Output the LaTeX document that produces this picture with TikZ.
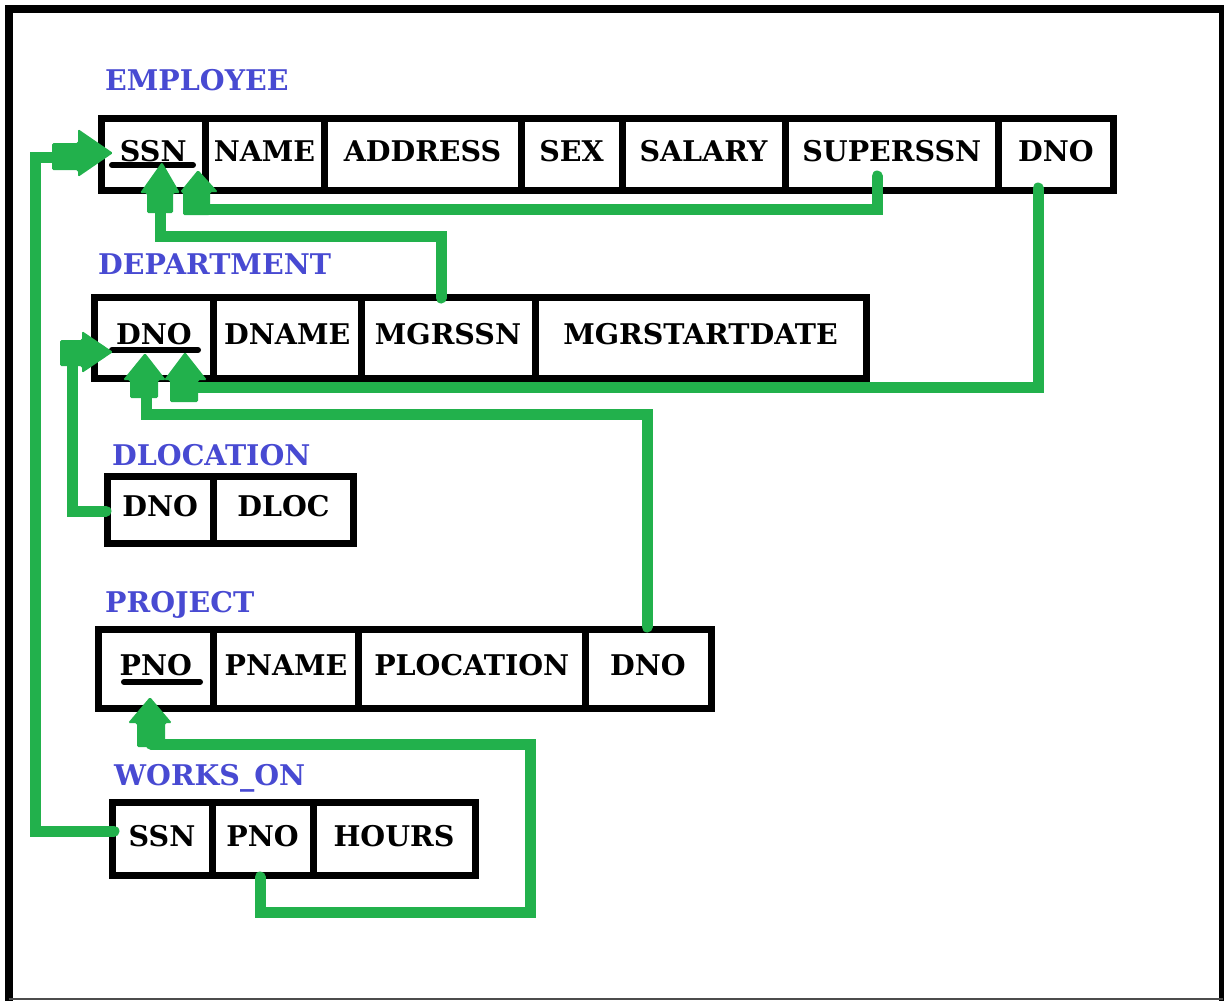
\documentclass[tikz,border=0pt]{standalone}
\usepackage{fontspec}
\setmainfont{DejaVu Serif}
\definecolor{grn}{RGB}{34,177,76}
\definecolor{ttl}{RGB}{72,74,210}
\tikzset{
  cell/.style={draw=black, line width=7pt, inner sep=0pt, text depth=7pt,
    font=\fontsize{28.5}{32}\selectfont\bfseries},
  ttlstyle/.style={text=ttl, inner sep=0pt, anchor=base west,
    font=\fontsize{28.5}{32}\selectfont\bfseries},
  uline/.style={line width=6pt, line cap=round, black},
  link/.style={draw=grn, line width=11pt, line cap=round, line join=miter},
  blk/.style={fill=grn, rounded corners=1.5pt}
}
\newcommand\mkcell[6]{%
  \node[cell, minimum width={(#3-#2)*1pt}, minimum height={(#5-#4)*1pt}]
    (#1) at ({(#2+#3)/2},{(#4+#5)/2}) {#6};}
\begin{document}
\begin{tikzpicture}[x=1pt,y=-1pt]
\useasboundingbox (0,0) rectangle (1224,1001);
% frame
\draw[line width=8pt] (9,1001) -- (9,9) -- (1223,9) -- (1223,1001);
\draw[line width=2pt, black!70] (9,999) -- (1223,999);

% titles
\node[ttlstyle] (temp) at (105,90) {EMPLOYEE};
\node[ttlstyle] (tdep) at (98,274) {DEPARTMENT};
\node[ttlstyle] (tdl) at (112,465) {DLOCATION};
\node[ttlstyle] (tpr) at (105,612) {PROJECT};
\node[ttlstyle] (twk) at (114,785) {WORKS\_ON};

% EMPLOYEE
\mkcell{essn}{101.5}{205}{118.5}{190}{SSN}
\mkcell{ename}{205}{324}{118.5}{190}{NAME}
\mkcell{eaddr}{324}{521}{118.5}{190}{ADDRESS}
\mkcell{esex}{521}{622}{118.5}{190}{SEX}
\mkcell{esal}{622}{785}{118.5}{190}{SALARY}
\mkcell{esup}{785}{998.5}{118.5}{190}{SUPERSSN}
\mkcell{edno}{998.5}{1113.5}{118.5}{190}{DNO}
% DEPARTMENT
\mkcell{ddno}{94.5}{213.5}{297}{378}{DNO}
\mkcell{dname}{213.5}{361}{297}{378}{DNAME}
\mkcell{dmgr}{361}{535}{297}{378}{MGRSSN}
\mkcell{dmsd}{535}{866}{297}{378}{MGRSTARTDATE}
% DLOCATION
\mkcell{ldno}{107}{213.5}{476}{543}{DNO}
\mkcell{lloc}{213.5}{353.5}{476}{543}{DLOC}
% PROJECT
\mkcell{ppno}{98}{213.5}{629}{708.5}{PNO}
\mkcell{pname}{213.5}{358.5}{629}{708.5}{PNAME}
\mkcell{ploc}{358.5}{585}{629}{708.5}{PLOCATION}
\mkcell{pdno}{585}{711}{629}{708.5}{DNO}
% WORKS_ON
\mkcell{wssn}{112}{212}{802.5}{875.5}{SSN}
\mkcell{wpno}{212}{313}{802.5}{875.5}{PNO}
\mkcell{whrs}{313}{475}{802.5}{875.5}{HOURS}

% underlines of keys
\draw[uline] (112,165) -- (193,165);
\draw[uline] (112,350) -- (198,350);
\draw[uline] (124,682) -- (200,682);

% connector end points
\coordinate (a1s) at (114,831);
\coordinate (a1e) at (55,157);
\coordinate (a2s) at (877,176);
\coordinate (a2e) at (197,209);
\coordinate (a3s) at (441,298);
\coordinate (a3e) at (160,212);
\coordinate (a4s) at (1038,188);
\coordinate (a4e) at (195,387);
\coordinate (a5s) at (647,627);
\coordinate (a5e) at (146,397);
\coordinate (a6s) at (106,511);
\coordinate (a6e) at (72,350);
\coordinate (a7s) at (260,877);
\coordinate (a7e) at (151,744);

% connectors
\draw[link] (a1s) -- (a1s -| 35,0) -- (35,157) -- (a1e);
\draw[link] (a2s) -- (a2s |- a2e) -- (a2e);
\draw[link] (a3s) -- (441,236) -- (160,236) -- (a3e);
\draw[link] (a4s) -- (a4s |- a4e) -- (a4e);
\draw[link] (a5s) -- (647,414) -- (146,414) -- (a5e);
\draw[link] (a6s) -- (72,511) -- (a6e);
\draw[link] (a7s) -- (260,912) -- (530,912) -- (530,744) -- (a7e);

% block arrow heads
\fill[blk] (113,153) -- (78,129) -- (78,143) -- (52,143) -- (52,170) -- (78,170) -- (78,177) -- cycle;
\fill[blk] (198,170) -- (218,192) -- (210,192) -- (210,215) -- (183,215) -- (183,192) -- (180,192) -- cycle;
\fill[blk] (162,162) -- (180,193) -- (173,193) -- (173,213) -- (147,213) -- (147,193) -- (140,193) -- cycle;
\fill[blk] (185,352) -- (207,380) -- (198,380) -- (198,402) -- (170,402) -- (170,380) -- (164,380) -- cycle;
\fill[blk] (145,353) -- (166,380) -- (158,380) -- (158,398) -- (130,398) -- (130,380) -- (123,380) -- cycle;
\fill[blk] (113,352) -- (82,331) -- (82,340) -- (60,340) -- (60,366) -- (82,366) -- (82,373) -- cycle;
\fill[blk] (150,697) -- (172,723) -- (165,723) -- (165,747) -- (137,747) -- (137,723) -- (128,723) -- cycle;
\end{tikzpicture}
\end{document}
